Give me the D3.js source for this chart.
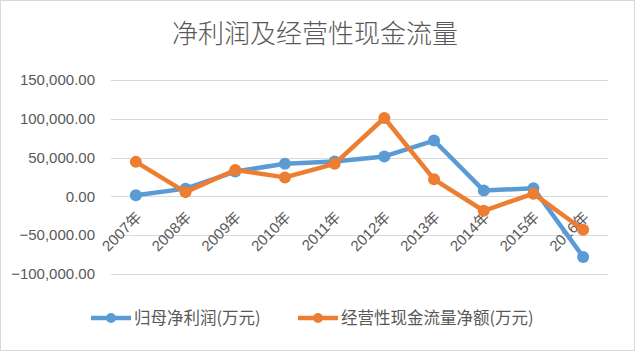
<!DOCTYPE html>
<html lang="zh">
<head>
<meta charset="UTF-8">
<title>净利润及经营性现金流量</title>
<script src="https://cdnjs.cloudflare.com/ajax/libs/d3/7.8.5/d3.min.js"></script>
<style>
    * { margin: 0; padding: 0; }
    body { background: #fff; }
    svg { display: block; font-family: "Liberation Sans", "Noto Sans CJK SC", sans-serif; }
</style>
</head>
<body>
<svg id="chart" width="635" height="352"></svg>
<script>
    const years = ["2007年", "2008年", "2009年", "2010年", "2011年", "2012年", "2013年", "2014年", "2015年", "2016年"];
    const netProfit = [1500, 10000, 32000, 42000, 45000, 51500, 72000, 7500, 10500, -78000];
    const operatingCash = [44500, 5500, 34000, 24500, 42000, 101000, 22000, -18500, 3500, -43000];
    const yTicks = [-100000, -50000, 0, 50000, 100000, 150000];
    const seriesNames = ["归母净利润(万元)", "经营性现金流量净额(万元)"];
    const colors = ["#5B9BD5", "#ED7D31"];

    const width = 635, height = 352;
    const margin = { left: 111, right: 27, top: 80, bottom: 78 };

    const svg = d3.select("#chart");

    // outer frame
    svg.append("rect")
        .attr("x", 0.5).attr("y", 0.5)
        .attr("width", width - 1).attr("height", height - 2)
        .attr("fill", "#fff")
        .attr("stroke", "#d9d9d9");

    const x = d3.scaleBand()
        .domain(years)
        .range([margin.left, width - margin.right]);

    const y = d3.scaleLinear()
        .domain([-100000, 150000])
        .range([height - margin.bottom, margin.top]);

    // gridlines
    svg.append("g")
        .selectAll("line")
        .data(yTicks)
        .join("line")
        .attr("x1", margin.left)
        .attr("x2", width - margin.right)
        .attr("y1", d => Math.round(y(d)) + 0.5)
        .attr("y2", d => Math.round(y(d)) + 0.5)
        .attr("stroke", "#d9d9d9")
        .attr("stroke-width", 1);

    // y axis labels
    const fmt = d3.format(",.2f");
    svg.append("g")
        .selectAll("text")
        .data(yTicks)
        .join("text")
        .attr("x", 95)
        .attr("y", d => y(d))
        .attr("dy", "0.35em")
        .attr("text-anchor", "end")
        .attr("font-size", 15)
        .attr("fill", "#595959")
        .text(d => fmt(d));

    // x axis labels (rotated)
    svg.append("g")
        .selectAll("text")
        .data(years)
        .join("text")
        .attr("transform", d => `translate(${x(d) + x.bandwidth() / 2 + 3},${y(0) + 18}) rotate(-45)`)
        .attr("text-anchor", "end")
        .attr("dy", "0.35em")
        .attr("font-size", 15)
        .attr("fill", "#595959")
        .text(d => d);

    const line = d3.line()
        .x((d, i) => x(years[i]) + x.bandwidth() / 2)
        .y(d => y(d));

    [netProfit, operatingCash].forEach((series, k) => {
        const g = svg.append("g");
        g.append("path")
            .datum(series)
            .attr("fill", "none")
            .attr("stroke", colors[k])
            .attr("stroke-width", 4.5)
            .attr("stroke-linejoin", "round")
            .attr("d", line);
        g.selectAll("circle")
            .data(series)
            .join("circle")
            .attr("cx", (d, i) => x(years[i]) + x.bandwidth() / 2)
            .attr("cy", d => y(d))
            .attr("r", 6)
            .attr("fill", colors[k]);
    });

    // title
    svg.append("text")
        .attr("x", 315)
        .attr("y", 43)
        .attr("text-anchor", "middle")
        .attr("font-family", "Noto Sans CJK SC")
        .attr("font-weight", 300)
        .attr("font-size", 26)
        .attr("fill", "#595959")
        .text("净利润及经营性现金流量");

    // legend
    const legendX = [91, 298];
    const legend = svg.append("g");
    seriesNames.forEach((name, k) => {
        const lg = legend.append("g").attr("transform", `translate(${legendX[k]},318)`);
        lg.append("line")
            .attr("x1", 0).attr("x2", 40)
            .attr("stroke", colors[k])
            .attr("stroke-width", 4.5);
        lg.append("circle")
            .attr("cx", 20).attr("r", 5)
            .attr("fill", colors[k]);
        lg.append("text")
            .attr("x", 43)
            .attr("dy", "0.35em")
            .attr("font-family", "Noto Sans CJK SC")
            .attr("font-size", 16.5)
            .attr("fill", "#595959")
            .text(name);
    });
</script>
</body>
</html>
